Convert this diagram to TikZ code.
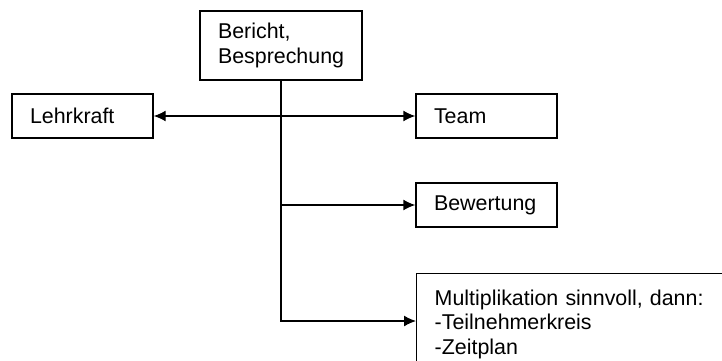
\documentclass[tikz,border=0pt]{standalone}
\usepackage{fontspec}
\setmainfont{Liberation Sans}
\usetikzlibrary{arrows.meta}

\begin{document}
\begin{tikzpicture}[x=0.5pt,y=-0.5pt,
    box/.style={draw, line width=0.7pt, align=left, inner xsep=9pt,
        font=\fontsize{10.7}{12.2}\selectfont},
    link/.style={line width=0.7pt, -{Latex[length=6pt,width=5.5pt]}}]
    \useasboundingbox (0,0) rectangle (722,360);
    \clip (0,0) rectangle (722,360);

    % The boxes
    \node[box, minimum height=34.5pt, text width=63pt] (bericht) at (281,45.5) {Bericht,\\Besprechung};
    \node[box, minimum height=22pt, text width=52.5pt] (lehrkraft) at (82.5,116) {Lehrkraft};
    \node[box, minimum height=22pt, text width=52.5pt] (team) at (486.5,116) {Team};
    \node[box, minimum height=22pt, text width=52.5pt] (bewertung) at (486.5,205) {Bewertung};
    \node[box, anchor=north west, inner ysep=8pt, text width=200pt] (multi) at (416,273)
        {Multiplikation sinnvoll, dann:\\-Teilnehmerkreis\\-Zeitplan};

    % Bend of the main line
    \coordinate (knee) at (bericht.south |- 0,321);

    % The connectors
    \draw[link] (bericht.south) -- (knee) -- (knee -| multi.west);
    \draw[link] (bericht.south |- bewertung.west) -- (bewertung.west);
    \draw[link, {Latex[length=6pt,width=5.5pt]}-{Latex[length=6pt,width=5.5pt]}] (lehrkraft.east) -- (team.west);
\end{tikzpicture}
\end{document}
